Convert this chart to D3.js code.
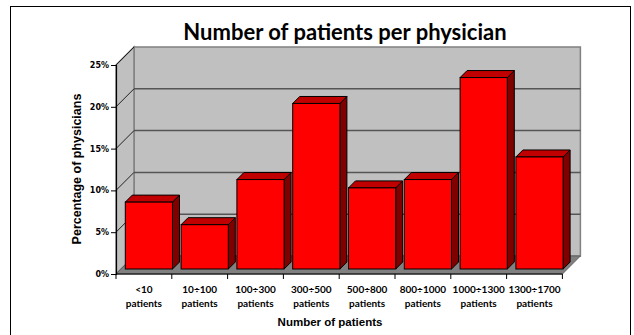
<!DOCTYPE html>
<html>
<head>
<meta charset="utf-8">
<script src="https://cdn.jsdelivr.net/npm/d3@7"></script>
<style>
  body { margin: 0; background: #fff; }
  svg { display: block; }
</style>
</head>
<body>
<div id="container"></div>
<script>
// data
var categories = ["<10", "10÷100", "100÷300", "300÷500", "500÷800", "800÷1000", "1000÷1300", "1300÷1700"];
var values = [8.0, 5.3, 10.7, 19.8, 9.7, 10.7, 22.9, 13.4];   // % of physicians
var yTicks = [0, 5, 10, 15, 20, 25];

var width = 634, height = 335;
var depth = 18,      // full depth of the 3d box
    barFront = 5,    // bar front face sits this far back
    barDepth = 7;

var svg = d3.select("#container").append("svg")
    .attr("width", width)
    .attr("height", height);

// outer frame
svg.append("rect")
    .attr("x", 10.5).attr("y", 6.5)
    .attr("width", 620).attr("height", 340)
    .attr("fill", "#fff")
    .attr("stroke", "#000").attr("stroke-width", 1);

var x = d3.scaleBand()
    .domain(categories)
    .range([116, 562.4])
    .paddingInner(0.154)
    .paddingOuter(0.077);

var y = d3.scaleLinear()
    .domain([0, 25])
    .range([274, 65]);

var x0 = x.range()[0], x1 = x.range()[1];
var yTop = y(25), yBot = y(0);

function pts(a) { return a.map(function(p) { return p.join(","); }).join(" "); }

// walls
var walls = svg.append("g").attr("class", "walls");
walls.append("polygon")   // back wall
    .attr("points", pts([[x0 + depth, yTop - depth], [x1 + depth, yTop - depth], [x1 + depth, yBot - depth], [x0 + depth, yBot - depth]]))
    .attr("fill", "#c0c0c0").attr("stroke", "#808080").attr("stroke-width", 1.5);
walls.append("polygon")   // side wall
    .attr("points", pts([[x0, yTop], [x0 + depth, yTop - depth], [x0 + depth, yBot - depth], [x0, yBot]]))
    .attr("fill", "#c0c0c0").attr("stroke", "#808080").attr("stroke-width", 1.5);

// gridlines
var grid = svg.append("g").attr("class", "grid");
grid.selectAll("line.back")
    .data(yTicks.filter(function(d) { return d > 0 && d < 25; }))
    .enter().append("line")
    .attr("class", "back")
    .attr("x1", x0 + depth).attr("x2", x1 + depth)
    .attr("y1", function(d) { return y(d) - depth; })
    .attr("y2", function(d) { return y(d) - depth; })
    .attr("stroke", "#555").attr("stroke-width", 1.5);
grid.selectAll("line.side")
    .data(yTicks.filter(function(d) { return d > 0; }))
    .enter().append("line")
    .attr("class", "side")
    .attr("x1", x0).attr("x2", x0 + depth)
    .attr("y1", function(d) { return y(d); })
    .attr("y2", function(d) { return y(d) - depth; })
    .attr("stroke", "#222").attr("stroke-width", 1);

// floor
svg.append("polygon")
    .attr("points", pts([[x0, yBot], [x0 + depth, yBot - depth], [x1 + depth, yBot - depth], [x1, yBot]]))
    .attr("fill", "#808080").attr("stroke", "#606060").attr("stroke-width", 1);

// bars
var bars = svg.append("g").attr("class", "bars")
    .selectAll("g.bar")
    .data(categories.map(function(c, i) { return { cat: c, value: values[i] }; }))
    .enter().append("g")
    .attr("class", "bar");

bars.each(function(d) {
    var g = d3.select(this);
    var bx = x(d.cat) + barFront, bw = x.bandwidth();
    var by = y(d.value) - barFront, bb = y(0) - barFront;
    var k = barDepth;
    // side
    g.append("polygon")
        .attr("points", pts([[bx + bw, by], [bx + bw + k, by - k], [bx + bw + k, bb - k], [bx + bw, bb]]))
        .attr("fill", "#800000").attr("stroke", "#000").attr("stroke-width", 1).attr("stroke-linejoin", "round");
    // top
    g.append("polygon")
        .attr("points", pts([[bx, by], [bx + k, by - k], [bx + bw + k, by - k], [bx + bw, by]]))
        .attr("fill", "#c00000").attr("stroke", "#000").attr("stroke-width", 1).attr("stroke-linejoin", "round");
    // front
    g.append("rect")
        .attr("x", bx).attr("y", by)
        .attr("width", bw).attr("height", bb - by)
        .attr("fill", "#ff0000").attr("stroke", "#000").attr("stroke-width", 1);
});

// y axis
var yAxis = svg.append("g")
    .attr("transform", "translate(" + x0 + ",0)")
    .call(d3.axisLeft(y).tickValues(yTicks).tickSize(5).tickPadding(2)
        .tickFormat(function(d) { return d + "%"; }));
yAxis.select(".domain").attr("stroke", "#000").attr("stroke-width", 1.2);
yAxis.selectAll(".tick line").attr("stroke", "#000");
yAxis.selectAll("text")
    .attr("font-family", "DejaVu Sans")
    .attr("font-weight", "bold")
    .attr("font-size", 8)
    .attr("fill", "#000");

// x axis: ticks at band boundaries
var xAxisG = svg.append("g").attr("class", "x-axis");
xAxisG.append("line")
    .attr("x1", x0).attr("x2", x1)
    .attr("y1", yBot).attr("y2", yBot)
    .attr("stroke", "#000").attr("stroke-width", 1.2);
var step = x.step();
xAxisG.selectAll("line.tick")
    .data(d3.range(categories.length + 1))
    .enter().append("line")
    .attr("class", "tick")
    .attr("x1", function(i) { return x0 + i * step; })
    .attr("x2", function(i) { return x0 + i * step; })
    .attr("y1", yBot).attr("y2", yBot + 5)
    .attr("stroke", "#000");

function bandMid(d) { return x(d) - step * x.paddingOuter() + step / 2; }

var labels = xAxisG.selectAll("text.cat")
    .data(categories)
    .enter().append("text")
    .attr("class", "cat")
    .attr("x", bandMid)
    .attr("y", 292.5)
    .attr("text-anchor", "middle")
    .attr("font-family", "Lato")
    .attr("font-weight", "bold")
    .attr("font-size", 10)
    .attr("fill", "#000");
labels.append("tspan").text(function(d) { return d; });
labels.append("tspan")
    .attr("x", bandMid)
    .attr("dy", 14)
    .text("patients");

// titles
svg.append("text")
    .attr("x", 345).attr("y", 40)
    .attr("text-anchor", "middle")
    .attr("font-family", "Lato")
    .attr("font-weight", "bold")
    .attr("font-size", 22)
    .text("Number of patients per physician");

svg.append("text")
    .attr("transform", "translate(81,169) rotate(-90)")
    .attr("text-anchor", "middle")
    .attr("font-family", "Liberation Sans")
    .attr("font-weight", "bold")
    .attr("font-size", 12.5)
    .text("Percentage of physicians");

svg.append("text")
    .attr("x", 330).attr("y", 326)
    .attr("text-anchor", "middle")
    .attr("font-family", "Liberation Sans")
    .attr("font-weight", "bold")
    .attr("font-size", 11.5)
    .text("Number of patients");
</script>
</body>
</html>
